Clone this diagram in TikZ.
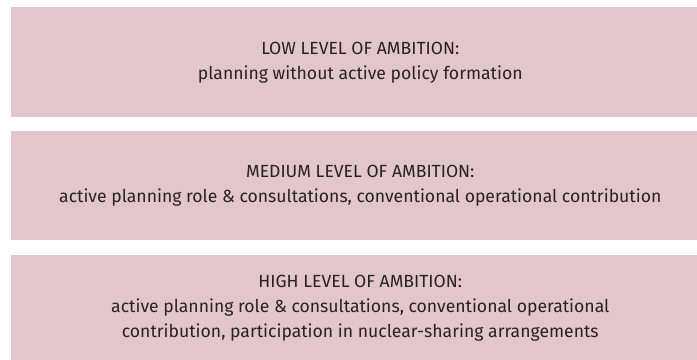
\documentclass[tikz,border=0pt]{standalone}
\usepackage{fontspec}
\setmainfont{Fira Sans}
\usetikzlibrary{positioning}
\definecolor{ambitionpink}{HTML}{E3C6CD}
\definecolor{ambitiontext}{HTML}{262223}

\begin{document}
\begin{tikzpicture}[x=0.75pt,y=-0.75pt,
	level/.style={fill=ambitionpink, text=ambitiontext, align=center,
		inner sep=0pt, minimum width=523.5pt,
		font=\fontsize{13.2}{18.75}\selectfont}]
	\useasboundingbox (0,0) rectangle (697,360);
	\node[level, minimum height=82.5pt, anchor=north west] (low) at (11,7)
		{LOW LEVEL OF AMBITION:\\planning without active policy formation};
	\node[level, minimum height=81.75pt, below=9.75pt of low] (medium)
		{MEDIUM LEVEL OF AMBITION:\\active planning role \& consultations, conventional operational contribution};
	\node[level, minimum height=79.5pt, below=11.25pt of medium] (high)
		{HIGH LEVEL OF AMBITION:\\active planning role \& consultations, conventional operational\\contribution, participation in nuclear-sharing arrangements};
\end{tikzpicture}
\end{document}
